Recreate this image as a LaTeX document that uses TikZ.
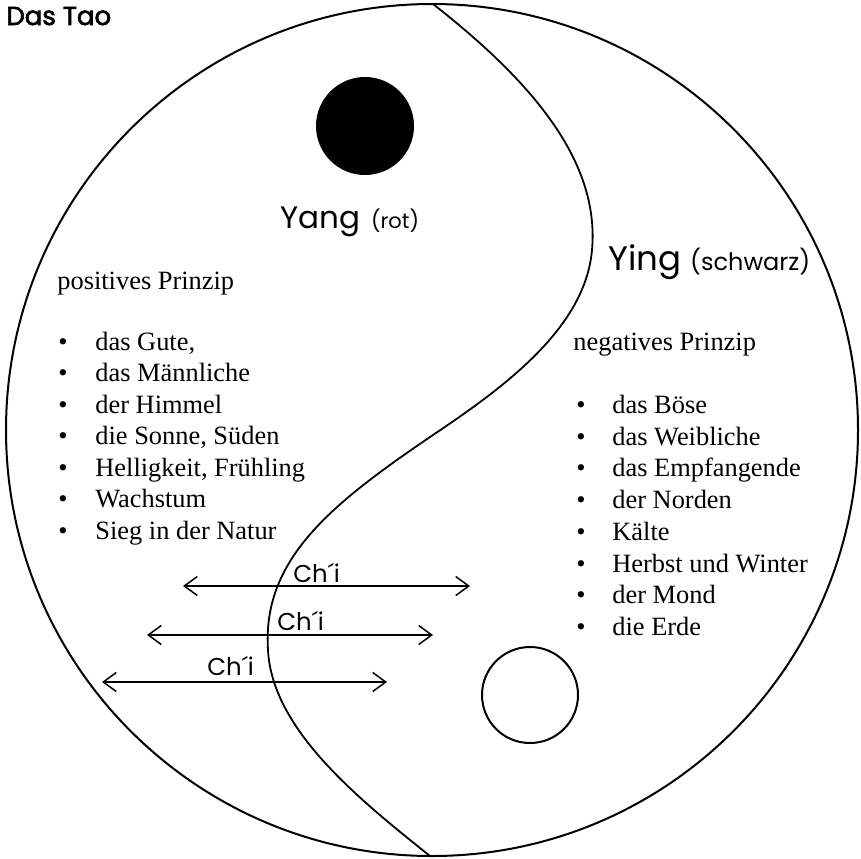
\documentclass[tikz,border=0pt]{standalone}
\usepackage{fontspec}
\setmainfont{Liberation Serif}
\newfontfamily\taofont{Poppins}
\newfontfamily\taobold[FakeBold=2.5]{Poppins}
\usetikzlibrary{arrows.meta}

\begin{document}
\begin{tikzpicture}[x=0.5pt,y=-0.5pt,
    titel/.style={font=\taofont\fontsize{15.5}{18}\selectfont, inner sep=0pt, anchor=base west},
    klein/.style={font=\taofont\fontsize{10.5}{12}\selectfont, inner sep=0pt, anchor=base west},
    chi/.style={font=\taofont\fontsize{12.2}{14}\selectfont, inner sep=0pt, anchor=base west},
    eintrag/.style={font=\fontsize{13.2}{15}\selectfont, inner sep=0pt, anchor=base west},
    pfeil/.style={line width=0.75pt, {Straight Barb[length=6.5pt,width=9.5pt]}-{Straight Barb[length=6.5pt,width=9.5pt]}}]
    \useasboundingbox (0,0) rectangle (861,858);

    % Draw the big circle and the S-line
    \draw[line width=1pt] (432,430) circle[radius=426];
    \draw[line width=0.9pt] (433,4) .. controls (530,80) and (600,160) .. (592,250)
      .. controls (585,330) and (500,390) .. (430,437)
      .. controls (330,505) and (262,560) .. (268,650)
      .. controls (272,730) and (360,800) .. (430,856);

    % Draw the two small circles
    \fill (365,126) circle[radius=49];
    \draw[line width=1pt] (530,695) circle[radius=48];

    \node[font=\taobold\fontsize{13}{15}\selectfont, inner sep=0pt, anchor=base west] (tao) at (6,25) {Das Tao};

    \node[titel] (yang) at (280,228) {Yang};
    \node[klein] (rot) at ([xshift=5pt]yang.base east) {(rot)};
    \node[titel, font=\taofont\fontsize{17}{20}\selectfont] (ying) at (608,270) {Ying};
    \node[klein, font=\taofont\fontsize{12}{14}\selectfont] (schwarz) at ([xshift=4pt]ying.base east) {(schwarz)};

    % positives Prinzip
    \node[eintrag] (pos) at (57,289) {positives Prinzip};
    \foreach \t [count=\i, evaluate=\i as \y using 350+31.5*(\i-1)] in
      {{das Gute,}, das Männliche, der Himmel, {die Sonne, Süden},
       {Helligkeit, Frühling}, Wachstum, Sieg in der Natur}{
      \node[eintrag] (posb\i) at (58,\y) {•};
      \node[eintrag] (pos\i) at (95,\y) {\t};
    }

    % negatives Prinzip
    \node[eintrag] (neg) at (573,350) {negatives Prinzip};
    \foreach \t [count=\i, evaluate=\i as \y using 413.5+31.7*(\i-1)] in
      {das Böse, das Weibliche, das Empfangende, der Norden, Kälte,
       Herbst und Winter, der Mond, die Erde}{
      \node[eintrag] (negb\i) at (576,\y) {•};
      \node[eintrag] (neg\i) at (612,\y) {\t};
    }

    % Ch'i arrows
    \foreach \i/\xl/\xr/\y/\xt/\yt in
      {1/183/470/586/293/582, 2/147/433/635/277/630, 3/102/387/682/207/675}{
      \coordinate (l\i) at (\xl,\y);
      \coordinate (r\i) at (\xr,\y);
      \draw[pfeil] (l\i) -- (r\i);
      \node[chi] (chi\i) at (\xt,\yt) {Ch´i};
    }

\end{tikzpicture}
\end{document}
